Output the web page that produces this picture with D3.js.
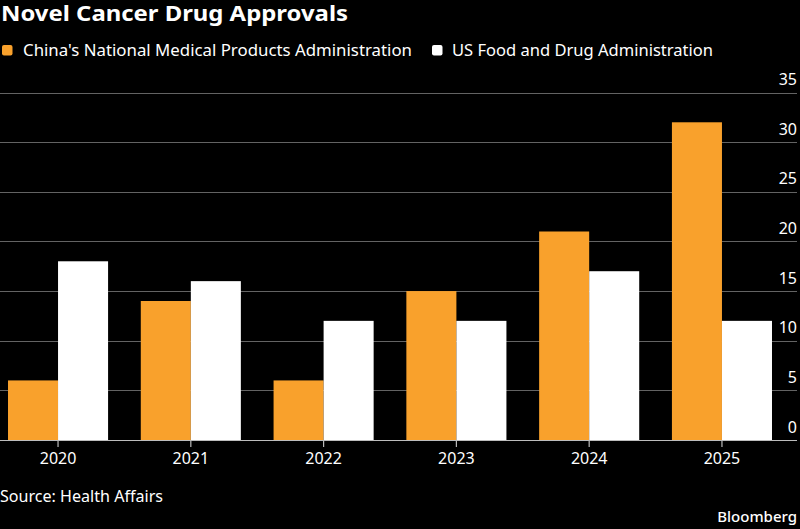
<!DOCTYPE html>
<html>
<head>
<meta charset="utf-8">
<script src="https://cdn.jsdelivr.net/npm/d3@7"></script>
<style>
  html, body { margin: 0; padding: 0; background: #000; }
  svg { display: block; }
  text { font-family: "Noto Sans", "Open Sans", sans-serif; fill: #fff; }
</style>
</head>
<body>
<svg id="chart" width="800" height="529"></svg>
<script>
const years = ["2020", "2021", "2022", "2023", "2024", "2025"];
const chinaValues = [6, 14, 6, 15, 21, 32];
const usValues = [18, 16, 12, 12, 17, 12];
const seriesNames = ["China's National Medical Products Administration", "US Food and Drug Administration"];
const yTicks = [0, 5, 10, 15, 20, 25, 30, 35];

const W = 800, H = 529;
const svg = d3.select("#chart");
svg.append("rect").attr("width", W).attr("height", H).attr("fill", "#000");

const colors = ["#f9a12c", "#ffffff"];

const x = d3.scaleBand().domain(years).range([0, 780]).paddingInner(0.2464).paddingOuter(0.0603);
const sub = d3.scaleBand().domain([0, 1]).range([0, x.bandwidth()]);
const y = d3.scaleLinear().domain([0, 35]).range([440, 92.5]);

// gridlines
svg.append("g").selectAll("line").data(yTicks.filter(d => d > 0)).join("line")
  .attr("x1", 0).attr("x2", 797)
  .attr("y1", d => Math.round(y(d)) + 0.5).attr("y2", d => Math.round(y(d)) + 0.5)
  .attr("stroke", "#636363").attr("stroke-width", 1.2);

// bars
const data = years.map((yr, i) => ({ yr, vals: [chinaValues[i], usValues[i]] }));
const g = svg.append("g");
data.forEach(d => {
  d.vals.forEach((v, k) => {
    g.append("rect")
      .attr("x", x(d.yr) + sub(k))
      .attr("width", sub.bandwidth())
      .attr("y", y(v))
      .attr("height", y(0) - y(v))
      .attr("fill", colors[k]);
  });
});

// baseline
svg.append("line").attr("x1", 0).attr("x2", 797).attr("y1", 440.5).attr("y2", 440.5)
  .attr("stroke", "#bdbdbd").attr("stroke-width", 1.2);

// y axis labels (right)
svg.append("g").selectAll("text").data(yTicks).join("text")
  .attr("x", 797).attr("y", d => y(d) - 7.5)
  .attr("text-anchor", "end").attr("font-size", 16).text(d => d);

// x axis
const xAxis = d3.axisBottom(x).tickSize(7).tickPadding(6);
const xg = svg.append("g").attr("transform", "translate(0,440)").call(xAxis);
xg.select(".domain").remove();
xg.selectAll(".tick line").attr("stroke", "#bdbdbd").attr("stroke-width", 1.2);
xg.selectAll(".tick text").attr("font-size", 16).attr("fill", "#fff")
  .attr("font-family", "'Noto Sans', 'Open Sans', sans-serif").attr("dy", "0.71em");

// title
svg.append("text").attr("x", 1).attr("y", 21).attr("font-size", 21).attr("font-weight", "bold")
  .attr("textLength", 347).attr("lengthAdjust", "spacingAndGlyphs")
  .text("Novel Cancer Drug Approvals");

// legend
const legendItems = [
  { sx: 2, tx: 23, tl: 389 },
  { sx: 432, tx: 452, tl: 261 }
];
legendItems.forEach((l, i) => {
  svg.append("rect").attr("x", l.sx).attr("y", 45).attr("width", 10.5).attr("height", 10.5)
    .attr("rx", 2).attr("fill", colors[i]);
  svg.append("text").attr("x", l.tx).attr("y", 55.5).attr("font-size", 16)
    .attr("textLength", l.tl).attr("lengthAdjust", "spacingAndGlyphs")
    .text(seriesNames[i]);
});

// source
svg.append("text").attr("x", 0).attr("y", 502).attr("font-size", 15.5)
  .attr("textLength", 163).attr("lengthAdjust", "spacingAndGlyphs")
  .text("Source: Health Affairs");

// brand
svg.append("text").attr("x", 797).attr("y", 522).attr("font-size", 15).attr("font-weight", 500)
  .attr("text-anchor", "end")
  .text("Bloomberg");
</script>
</body>
</html>
